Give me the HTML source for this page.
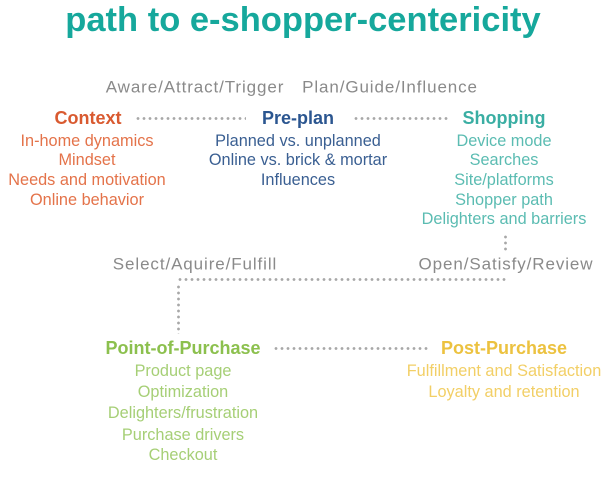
<!DOCTYPE html>
<html><head><style>
body{margin:0;width:612px;height:483px;background:#fff;position:relative;overflow:hidden;font-family:"Liberation Sans",sans-serif}
.t{position:absolute;transform:translate(-50%,-50%);white-space:nowrap;font-size:16.3px;line-height:1}
.h{font-weight:bold;font-size:18px}
.g{color:#8a8a8a;font-size:17px;letter-spacing:0.9px}
.c{color:#e4734a}.ch{color:#d95a30}
.p{color:#3a5f92}.ph{color:#2b5690}
.s{color:#5bbcb2}.sh{color:#3aaea3}
.o{color:#a6cf76}.oh{color:#8cc04e}
.y{color:#f2cf66}.yh{color:#ecc240}
.dh{position:absolute;height:3px;background:radial-gradient(circle,#a8a8a8 1.2px,transparent 1.6px) 0 0/6px 3px repeat-x}
.dv{position:absolute;width:3px;background:radial-gradient(circle,#a8a8a8 1.2px,transparent 1.6px) 0 0/3px 6px repeat-y}
</style></head><body>
<div class="t" style="left:303px;top:20px;font-size:34.5px;font-weight:bold;color:#16a89c">path to e-shopper-centericity</div>

<div class="t g" style="left:195px;top:87px">Aware/Attract/Trigger</div>
<div class="t g" style="left:390px;top:87px">Plan/Guide/Influence</div>

<div class="t h ch" style="left:88px;top:118px">Context</div>
<div class="t h ph" style="left:298px;top:118px">Pre-plan</div>
<div class="t h sh" style="left:504px;top:118px">Shopping</div>
<div class="dh" style="left:135px;top:117px;width:111px"></div>
<div class="dh" style="left:353px;top:117px;width:96px"></div>

<div class="t c" style="left:87px;top:141px">In-home dynamics</div>
<div class="t c" style="left:87px;top:160px">Mindset</div>
<div class="t c" style="left:87px;top:180px">Needs and motivation</div>
<div class="t c" style="left:87px;top:200px">Online behavior</div>

<div class="t p" style="left:298px;top:141px">Planned vs. unplanned</div>
<div class="t p" style="left:298px;top:160px">Online vs. brick &amp; mortar</div>
<div class="t p" style="left:298px;top:180px">Influences</div>

<div class="t s" style="left:504px;top:141px">Device mode</div>
<div class="t s" style="left:504px;top:160px">Searches</div>
<div class="t s" style="left:504px;top:180px">Site/platforms</div>
<div class="t s" style="left:504px;top:200px">Shopper path</div>
<div class="t s" style="left:504px;top:219px">Delighters and barriers</div>

<div class="dv" style="left:504px;top:234px;height:18px"></div>
<div class="t g" style="left:195px;top:264px">Select/Aquire/Fulfill</div>
<div class="t g" style="left:506px;top:264px">Open/Satisfy/Review</div>
<div class="dh" style="left:177px;top:278px;width:331px"></div>
<div class="dv" style="left:177px;top:284px;height:50px"></div>

<div class="t h oh" style="left:183px;top:348px">Point-of-Purchase</div>
<div class="t h yh" style="left:504px;top:348px">Post-Purchase</div>
<div class="dh" style="left:273px;top:347px;width:156px"></div>

<div class="t o" style="left:183px;top:371px">Product page</div>
<div class="t o" style="left:183px;top:392px">Optimization</div>
<div class="t o" style="left:183px;top:413px">Delighters/frustration</div>
<div class="t o" style="left:183px;top:435px">Purchase drivers</div>
<div class="t o" style="left:183px;top:455px">Checkout</div>

<div class="t y" style="left:504px;top:371px">Fulfillment and Satisfaction</div>
<div class="t y" style="left:504px;top:392px">Loyalty and retention</div>
</body></html>
